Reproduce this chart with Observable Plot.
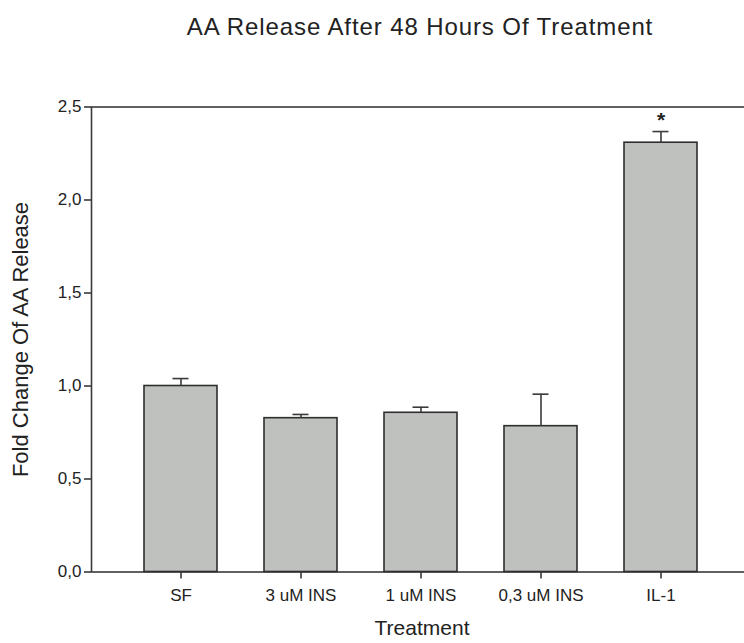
<!DOCTYPE html>
<html>
<head>
<meta charset="utf-8">
<script src="https://cdn.jsdelivr.net/npm/d3@7"></script>
<script src="https://cdn.jsdelivr.net/npm/@observablehq/plot@0.6"></script>
<style>
  html, body { margin: 0; padding: 0; background: #fff; }
  body { width: 744px; height: 643px; overflow: hidden; font-family: "Liberation Sans", Arial, sans-serif; }
  #title { height: 60px; box-sizing: border-box; padding-top: 13px; text-align: center; padding-left: 96px; font-size: 24px; letter-spacing: 0.9px; color: #222; line-height: 28px; white-space: nowrap; }
</style>
</head>
<body>
<div id="title">AA Release After 48 Hours Of Treatment</div>
<div id="chart"></div>
<script>
const categories = ["SF", "3 uM INS", "1 uM INS", "0,3 uM INS", "IL-1"];
const means = [1.00, 0.827, 0.856, 0.784, 2.308];
const errors = [0.04, 0.02, 0.03, 0.172, 0.06];
const marks = ["", "", "", "", "*"];
const yTicks = [0, 0.5, 1.0, 1.5, 2.0, 2.5];
const xTitle = "Treatment";
const yTitle = "Fold Change Of AA Release";

const data = categories.map((c, i) => ({cat: c, mean: means[i], err: errors[i], top: means[i] + errors[i], mark: marks[i]}));

const lineColor = "#3a3a3a";
const fmt = d => d3.format(".1f")(d).replace(".", ",");

const chart = Plot.plot({
  width: 744,
  height: 583,
  marginTop: 46.5,
  marginBottom: 71.5,
  marginLeft: 91,
  marginRight: -8,
  style: {fontFamily: "Liberation Sans, Arial, sans-serif", color: "#222", background: "#fff", overflow: "visible"},
  x: {domain: categories, range: [91, 751], paddingInner: 0.39, paddingOuter: 0.445, label: null},
  y: {domain: [0, 2.5], label: null},
  marks: [
    Plot.frame({stroke: lineColor, strokeWidth: 1.6}),
    Plot.barY(data, {x: "cat", y: "mean", fill: "#bfc1bf", stroke: "#2e2e2e", strokeWidth: 1.6}),
    Plot.ruleX(data, {x: "cat", y1: "mean", y2: "top", stroke: lineColor, strokeWidth: 1.6}),
    Plot.tickY(data, {x: "cat", y: "top", stroke: lineColor, strokeWidth: 1.6, insetLeft: 28.5, insetRight: 28.5}),
    Plot.text(data, {x: "cat", y: "top", text: "mark", dy: -11, fontSize: 21, fontWeight: "bold", fill: "#222"}),
    Plot.axisY({ticks: yTicks, tickFormat: fmt, tickSize: 7, tickPadding: 3, fontSize: 17, stroke: lineColor, strokeWidth: 1.6, label: null}),
    Plot.axisX({tickSize: 7, tickPadding: 10, fontSize: 17, stroke: lineColor, strokeWidth: 1.6, label: null}),
    Plot.text([yTitle], {text: d => d, frameAnchor: "left", textAnchor: "middle", dx: -71, rotate: -90, fontSize: 22, fill: "#222"}),
    Plot.text([xTitle], {text: d => d, frameAnchor: "bottom", dy: 62.5, fontSize: 21, fill: "#222"})
  ]
});
document.getElementById("chart").appendChild(chart);
</script>
</body>
</html>
